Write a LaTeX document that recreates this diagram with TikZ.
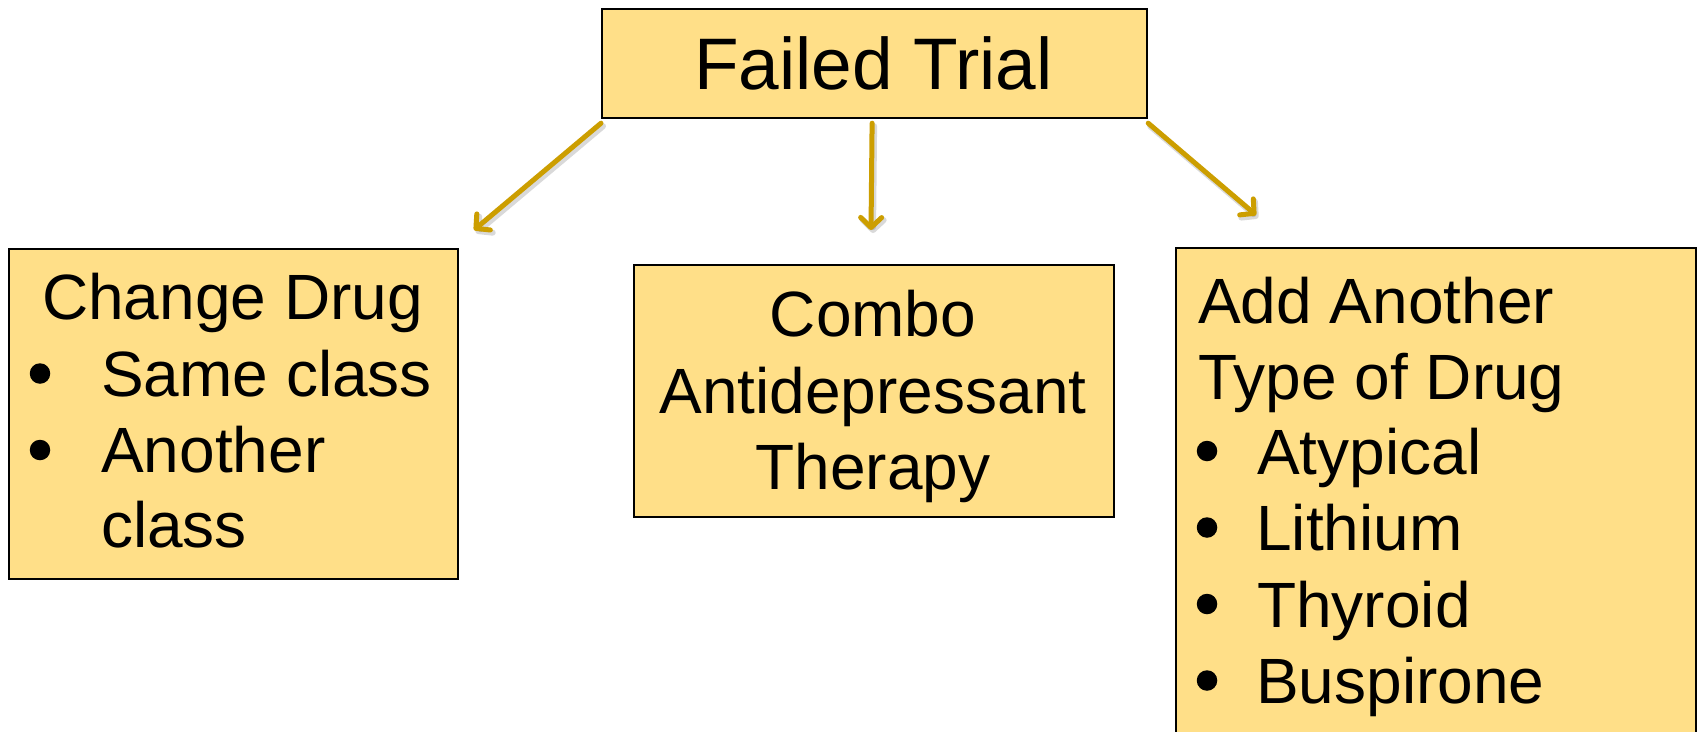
\documentclass[tikz,border=0pt]{standalone}
\usepackage{fontspec}
\setmainfont{Liberation Sans}
\usetikzlibrary{arrows.meta}
\definecolor{boxfill}{HTML}{FFDF88}
\definecolor{arrowgold}{HTML}{CC9E00}
\begin{document}
\begin{tikzpicture}[x=1pt,y=-1pt,
  box/.style={draw=black, line width=2.2pt, fill=boxfill, inner sep=0pt, anchor=north west},
  txt/.style={anchor=base west, inner sep=0pt, font=\fontsize{64}{76}\selectfont},
  ctxt/.style={anchor=base, inner sep=0pt, font=\fontsize{64}{76}\selectfont},
  dot/.style={circle, fill=black, inner sep=0pt, minimum size=20.5pt},
  link/.style={draw=arrowgold, line width=5pt, line cap=round,
    -{Straight Barb[length=10pt,width=21pt,round]}},
  linkshadow/.style={draw=black, opacity=0.15, line width=6pt, line cap=round,
    -{Straight Barb[length=10pt,width=21pt,round]},
    transform canvas={xshift=2pt,yshift=-3pt}}
]
\clip (0,0) rectangle (1700,731);
\fill[white] (0,0) rectangle (1700,731);

% top box
\node[box, minimum width=545pt, minimum height=109pt] (fail) at (601,8) {};
\node[ctxt, font=\fontsize{73}{80}\selectfont] (failtxt) at (873.5,89) {Failed Trial};

% left box
\node[box, minimum width=449pt, minimum height=330pt] (change) at (8,248) {};
\node[ctxt] (change1) at (232.5,319) {Change Drug};
\node[dot] (changeb1) at (40,373.5) {};
\node[txt] (change2) at (101,396) {Same class};
\node[dot] (changeb2) at (40,450) {};
\node[txt] (change3) at (101,472) {Another};
\node[txt] (change4) at (101,547) {class};

% middle box
\node[box, minimum width=480pt, minimum height=252pt] (combo) at (633,264) {};
\node[ctxt] (combo1) at (873,336) {Combo};
\node[ctxt] (combo2) at (873,413) {Antidepressant};
\node[ctxt] (combo3) at (873,489) {Therapy};

% right box (runs past the lower edge)
\node[box, minimum width=520pt, minimum height=520pt] (addon) at (1175,247) {};
\node[txt] (addon1) at (1198,323) {Add Another};
\node[txt] (addon2) at (1198,399) {Type of Drug};
\node[dot] (addonb1) at (1207,451) {};
\node[txt] (addon3) at (1257,474) {Atypical};
\node[dot] (addonb2) at (1207,527.5) {};
\node[txt] (addon4) at (1256,550) {Lithium};
\node[dot] (addonb3) at (1207,604) {};
\node[txt] (addon5) at (1257,627) {Thyroid};
\node[dot] (addonb4) at (1207,680.5) {};
\node[txt] (addon6) at (1256,703) {Buspirone};

% arrow ends
\coordinate (leftend) at (474,230);
\coordinate (midend) at (871,230);
\coordinate (rightend) at (1256,215);

% arrows with a soft shadow
\draw[linkshadow] ([yshift=-4pt]fail.south west) -- (leftend);
\draw[linkshadow] ([xshift=-2.5pt,yshift=-4pt]fail.south) -- (midend);
\draw[linkshadow] ([yshift=-4pt]fail.south east) -- (rightend);
\draw[link] ([yshift=-4pt]fail.south west) -- (leftend);
\draw[link] ([xshift=-2.5pt,yshift=-4pt]fail.south) -- (midend);
\draw[link] ([yshift=-4pt]fail.south east) -- (rightend);
\end{tikzpicture}
\end{document}
